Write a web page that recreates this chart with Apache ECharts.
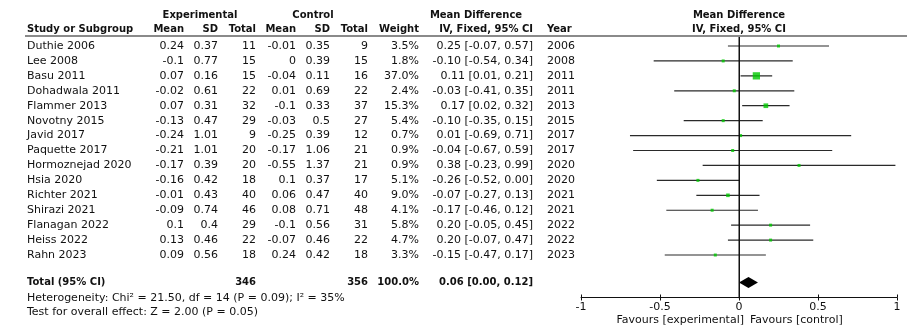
<!DOCTYPE html>
<html>
<head>
<meta charset="utf-8">
<script src="https://cdn.jsdelivr.net/npm/echarts@6/dist/echarts.min.js"></script>
<style>html,body{margin:0;padding:0;background:#fff}#c{width:913px;height:327px}</style>
</head>
<body>
<div id="c"></div>
<script>
// ---------------- data ----------------
const studies = ['Duthie 2006','Lee 2008','Basu 2011','Dohadwala 2011','Flammer 2013','Novotny 2015','Javid 2017','Paquette 2017','Hormoznejad 2020','Hsia 2020','Richter 2021','Shirazi 2021','Flanagan 2022','Heiss 2022','Rahn 2023'];
const expMean = [0.24,-0.1,0.07,-0.02,0.07,-0.13,-0.24,-0.21,-0.17,-0.16,-0.01,-0.09,0.1,0.13,0.09];
const expSD   = [0.37,0.77,0.16,0.61,0.31,0.47,1.01,1.01,0.39,0.42,0.43,0.74,0.4,0.46,0.56];
const expN    = [11,15,15,22,32,29,9,20,20,18,40,46,29,22,18];
const ctlMean = [-0.01,0,-0.04,0.01,-0.1,-0.03,-0.25,-0.17,-0.55,0.1,0.06,0.08,-0.1,-0.07,0.24];
const ctlSD   = [0.35,0.39,0.11,0.69,0.33,0.5,0.39,1.06,1.37,0.37,0.47,0.71,0.56,0.46,0.42];
const ctlN    = [9,15,16,22,37,27,12,21,21,17,40,48,31,22,18];
const weight  = [3.5,1.8,37.0,2.4,15.3,5.4,0.7,0.9,0.9,5.1,9.0,4.1,5.8,4.7,3.3];
const md      = [0.25,-0.10,0.11,-0.03,0.17,-0.10,0.01,-0.04,0.38,-0.26,-0.07,-0.17,0.20,0.20,-0.15];
const ciLow   = [-0.07,-0.54,0.01,-0.41,0.02,-0.35,-0.69,-0.67,-0.23,-0.52,-0.27,-0.46,-0.05,-0.07,-0.47];
const ciHigh  = [0.57,0.34,0.21,0.35,0.32,0.15,0.71,0.59,0.99,0.00,0.13,0.12,0.45,0.47,0.17];
const years   = [2006,2008,2011,2011,2013,2015,2017,2017,2020,2020,2021,2021,2022,2022,2023];
const totalExpN = 346, totalCtlN = 356, totalWeight = 100.0;
const pooled = [0.06, 0.00, 0.12];   // estimate, low, high
const noEffect = 0;
const heterogeneityText = 'Heterogeneity: Chi\u00b2 = 21.50, df = 14 (P = 0.09); I\u00b2 = 35%';
const overallText = 'Test for overall effect: Z = 2.00 (P = 0.05)';
const xTicks = [-1, 1, 0.5]; // min, max, interval

// ---------------- layout ----------------
const FONT = '"DejaVu Sans", sans-serif';
const Y0 = 46, RH = 14.93;
const rowAt = py => (py - Y0) / RH;
const HDR1 = rowAt(15), HDR2 = rowAt(29.5), TOT = rowAt(282.5), HET = rowAt(298.5), OVR = rowAt(312.5), FAV = rowAt(320.5);
const COL = {study:27, eMean:184, eSD:218, eN:256, cMean:296, cSD:330, cN:368, w:419, ci:533, year:547};
const PLOT = {left:581, right:897, top:36, axisY:297.5};

const f2 = v => v.toFixed(2);
const rowIdx = studies.map((_, i) => i);

function textSeries(items, align, weightStr, size) {
  return {
    type:'custom', coordinateSystem:'cartesian2d', xAxisIndex:1, yAxisIndex:1, silent:true, z:5,
    data: items.map(it => [it[0], it[1]]),
    renderItem: (params, api) => {
      const it = items[params.dataIndex];
      const p = api.coord([it[0], it[1]]);
      return {type:'text', x:p[0], y:p[1], style:{text:it[2], fill:'#111', align:align, verticalAlign:'middle',
        font: weightStr + ' ' + size + 'px ' + FONT}};
    }
  };
}

const leftReg = [], rightReg = [], centerBold = [], leftBold = [], rightBold = [];
rowIdx.forEach(i => {
  leftReg.push([COL.study, i, studies[i]]);
  rightReg.push([COL.eMean, i, String(expMean[i])]);
  rightReg.push([COL.eSD, i, String(expSD[i])]);
  rightReg.push([COL.eN, i, String(expN[i])]);
  rightReg.push([COL.cMean, i, String(ctlMean[i])]);
  rightReg.push([COL.cSD, i, String(ctlSD[i])]);
  rightReg.push([COL.cN, i, String(ctlN[i])]);
  rightReg.push([COL.w, i, weight[i].toFixed(1) + '%']);
  rightReg.push([COL.ci, i, f2(md[i]) + ' [' + f2(ciLow[i]) + ', ' + f2(ciHigh[i]) + ']']);
  leftReg.push([COL.year, i, String(years[i])]);
});
centerBold.push([200, HDR1, 'Experimental'], [313, HDR1, 'Control'], [476, HDR1, 'Mean Difference'], [739, HDR1, 'Mean Difference'], [739, HDR2, 'IV, Fixed, 95% CI']);
leftBold.push([COL.study, HDR2, 'Study or Subgroup'], [COL.year, HDR2, 'Year'], [COL.study, TOT, 'Total (95% CI)']);
rightBold.push([COL.eMean, HDR2, 'Mean'], [COL.eSD, HDR2, 'SD'], [COL.eN, HDR2, 'Total'], [COL.cMean, HDR2, 'Mean'], [COL.cSD, HDR2, 'SD'], [COL.cN, HDR2, 'Total'], [COL.w, HDR2, 'Weight'], [COL.ci, HDR2, 'IV, Fixed, 95% CI']);
rightBold.push([COL.eN, TOT, String(totalExpN)], [COL.cN, TOT, String(totalCtlN)], [COL.w, TOT, totalWeight.toFixed(1) + '%'], [COL.ci, TOT, f2(pooled[0]) + ' [' + f2(pooled[1]) + ', ' + f2(pooled[2]) + ']']);
leftReg.push([COL.study, HET, heterogeneityText], [COL.study, OVR, overallText], [750, FAV, 'Favours [control]']);
rightReg.push([744, FAV, 'Favours [experimental]']);

const chart = echarts.init(document.getElementById('c'), null, {renderer:'canvas'});
const plotYMin = rowAt(PLOT.top), plotYMax = rowAt(PLOT.axisY);

// segments: study CIs (horizontal) + the no-effect line (vertical)
const segs = rowIdx.map(i => [ciLow[i], i, ciHigh[i], i]);
segs.push([noEffect, plotYMin + 0.01, noEffect, plotYMax - 0.01]);

const option = {
  animation:false,
  grid:[
    {left:PLOT.left, top:PLOT.top, width:PLOT.right - PLOT.left, height:PLOT.axisY - PLOT.top},
    {left:0, top:0, width:913, height:327}
  ],
  xAxis:[
    {gridIndex:0, type:'value', min:xTicks[0], max:xTicks[1], interval:xTicks[2], position:'bottom',
      axisLine:{show:true, onZero:false, lineStyle:{color:'#111', width:1}},
      axisTick:{show:true, length:3, lineStyle:{color:'#111'}},
      axisLabel:{show:true, color:'#111', fontSize:11, fontFamily:FONT, margin:4, formatter: v => String(v)},
      splitLine:{show:false}},
    {gridIndex:1, type:'value', min:0, max:913, show:false},
    {gridIndex:0, type:'value', min:xTicks[0], max:xTicks[1], interval:xTicks[2], position:'bottom',
      axisLine:{show:false, onZero:false}, axisTick:{show:true, inside:true, length:3, lineStyle:{color:'#111'}},
      axisLabel:{show:false}, splitLine:{show:false}}
  ],
  yAxis:[
    {gridIndex:0, type:'value', min:plotYMin, max:plotYMax, inverse:true, show:false},
    {gridIndex:1, type:'value', min:rowAt(0), max:rowAt(327), inverse:true, show:false}
  ],
  graphic:[
    {id:'hdrline', type:'line', shape:{x1:25, y1:36, x2:907, y2:36}, style:{stroke:'#8a8a8a', lineWidth:2}, z:10}
  ],
  series:[
    // CI lines + no-effect line
    {type:'custom', xAxisIndex:0, yAxisIndex:0, z:3,
      data: segs,
      renderItem: (params, api) => {
        const a = api.coord([api.value(0), api.value(1)]);
        const b = api.coord([api.value(2), api.value(3)]);
        const vertical = Math.abs(a[0] - b[0]) < 0.5;
        if (vertical) {
          const x = Math.round(a[0]);
          return {type:'rect', shape:{x:x - 0.5, y:Math.min(a[1], b[1]) - 1, width:1.2, height:Math.abs(b[1] - a[1]) + 2},
            style:{fill:'#111'}};
        }
        return {type:'line', shape:{x1:a[0], y1:a[1], x2:b[0], y2:b[1]}, style:{stroke:'#2a2a2a', lineWidth:1.2}};
      }},
    // study squares
    {type:'scatter', xAxisIndex:0, yAxisIndex:0, z:4,
      data: rowIdx.map(i => [md[i], i]), symbol:'rect',
      symbolSize: (v, p) => Math.max(3, 1.2 * Math.sqrt(weight[p.dataIndex])),
      itemStyle:{color:'#00c800'},
      markLine:{symbol:['none','none'], label:{show:false}, lineStyle:{color:'#111', type:'solid', width:1},
        emphasis:{disabled:true}, data:[{xAxis:noEffect}]}},
    // pooled diamond
    {type:'custom', xAxisIndex:0, yAxisIndex:0, z:4,
      data:[[pooled[1], TOT, pooled[0], pooled[2]]],
      renderItem: (params, api) => {
        const y = api.value(1);
        const l = api.coord([api.value(0), y]), c = api.coord([api.value(2), y]), r = api.coord([api.value(3), y]);
        const h = 5.5;
        return {type:'polygon', shape:{points:[[l[0], l[1]], [c[0], c[1] - h], [r[0], r[1]], [c[0], c[1] + h]]},
          style:{fill:'#000'}};
      }},
    textSeries(leftReg, 'left', 'normal', 11),
    textSeries(rightReg, 'right', 'normal', 11),
    textSeries(centerBold, 'center', 'bold', 10),
    textSeries(leftBold, 'left', 'bold', 10),
    textSeries(rightBold, 'right', 'bold', 10)
  ]
};
chart.setOption(option);

// no-effect line also as a graphic placed through the axis scale
const p0 = chart.convertToPixel({xAxisIndex:0, yAxisIndex:0}, [noEffect, plotYMin]);
const p1 = chart.convertToPixel({xAxisIndex:0, yAxisIndex:0}, [noEffect, plotYMax]);
if (p0 && p1) {
  const x = Math.round(p0[0]) + 0.5;
  chart.setOption({graphic:[
    {id:'hdrline', type:'line', shape:{x1:25, y1:36, x2:907, y2:36}, style:{stroke:'#8a8a8a', lineWidth:2}, z:10},
    {id:'zeroline', type:'line', shape:{x1:x, y1:p0[1], x2:x, y2:p1[1]}, style:{stroke:'#111', lineWidth:1}, z:9}
  ]});
}
</script>
</body>
</html>
